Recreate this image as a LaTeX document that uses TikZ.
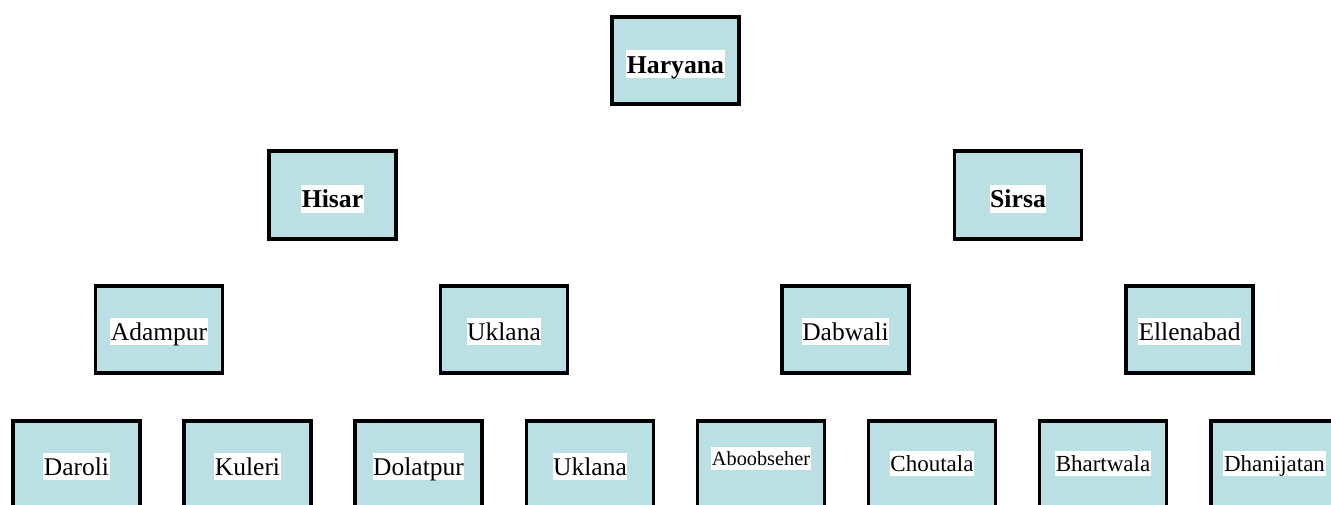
\documentclass[tikz,border=0pt]{standalone}
\usepackage{fontspec}
\setmainfont{Liberation Serif}
\definecolor{boxfill}{RGB}{187,224,227}
\tikzset{
  boxnode/.style={draw=black, line width=3.7pt, fill=boxfill, minimum width=127pt, minimum height=87.5pt, inner sep=0pt},
  lbl/.style={fill=white, inner xsep=0.6pt, inner ysep=0pt, text height=23pt, text depth=4.6pt, font=\fontsize{25.5pt}{27pt}\selectfont, yshift=-2pt},
  lblbold/.style={lbl, text height=23.1pt, text depth=4.6pt, font=\fontsize{25.7pt}{27pt}\selectfont\bfseries, yshift=-1.7pt},
  lblmid/.style={lbl, text height=20.7pt, text depth=4.2pt, font=\fontsize{23pt}{25pt}\selectfont, yshift=2.8pt},
  lblsmall/.style={lbl, text height=19pt, text depth=3.7pt, font=\fontsize{20.3pt}{22pt}\selectfont, yshift=8.2pt}
}
\begin{document}
\begin{tikzpicture}[x=1pt, y=-1pt]
\useasboundingbox (0,0) rectangle (1331,505);
\clip (0,0) rectangle (1331,505);
% level 1
\node[boxnode] (haryana) at (675.5,60.5) {};
\node[lblbold] (haryanaT) at (haryana) {Haryana};
% level 2
\node[boxnode] (hisar) at (332.5,195) {};
\node[lblbold] (hisarT) at (hisar) {Hisar};
\node[boxnode] (sirsa) at (1018,195) {};
\node[lblbold] (sirsaT) at (sirsa) {Sirsa};
% level 3
\node[boxnode] (adampur) at (159,329.5) {};
\node[lbl] (adampurT) at (adampur) {Adampur};
\node[boxnode] (uklana) at (504,329.5) {};
\node[lbl] (uklanaT) at (uklana) {Uklana};
\node[boxnode] (dabwali) at (845.5,329.5) {};
\node[lbl] (dabwaliT) at (dabwali) {Dabwali};
\node[boxnode] (ellenabad) at (1189.5,329.5) {};
\node[lbl] (ellenabadT) at (ellenabad) {Ellenabad};
% level 4
\node[boxnode] (daroli) at (76.5,464.5) {};
\node[lbl] (daroliT) at (daroli) {Daroli};
\node[boxnode] (kuleri) at (247.5,464.5) {};
\node[lbl] (kuleriT) at (kuleri) {Kuleri};
\node[boxnode] (dolatpur) at (418.5,464.5) {};
\node[lbl] (dolatpurT) at (dolatpur) {Dolatpur};
\node[boxnode] (uklanab) at (590,464.5) {};
\node[lbl] (uklanabT) at (uklanab) {Uklana};
\node[boxnode] (aboobseher) at (761,464.5) {};
\node[lblsmall] (aboobseherT) at (aboobseher) {Aboobseher};
\node[boxnode] (choutala) at (932,464.5) {};
\node[lblmid] (choutalaT) at (choutala) {Choutala};
\node[boxnode] (bhartwala) at (1103,464.5) {};
\node[lblmid] (bhartwalaT) at (bhartwala) {Bhartwala};
\node[boxnode] (dhanijatan) at (1274.5,464.5) {};
\node[lblmid] (dhanijatanT) at (dhanijatan) {Dhanijatan};
\end{tikzpicture}
\end{document}
